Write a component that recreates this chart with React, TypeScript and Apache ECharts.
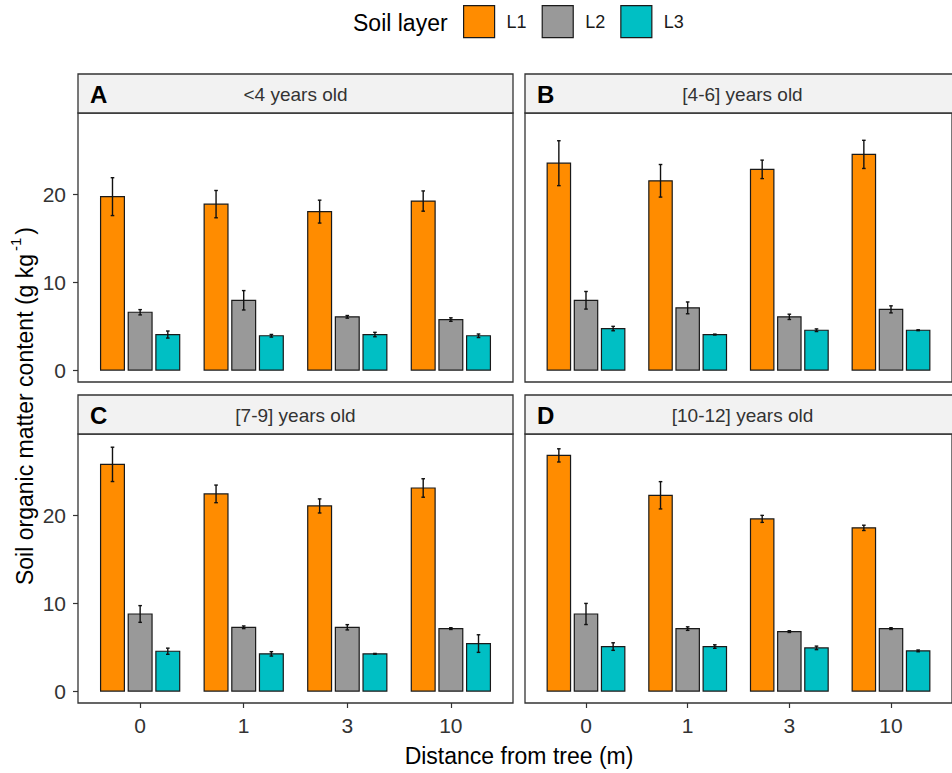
import React, { useEffect, useRef } from "react";
import * as echarts from "echarts";

const distances = ["0", "1", "3", "10"];
const layers = ["L1", "L2", "L3"];
const layerColors = ["#FF8C00", "#999999", "#00BFC4"];
const panelLetters = ["A", "B", "C", "D"];
const panelTitles = ["<4 years old", "[4-6] years old", "[7-9] years old", "[10-12] years old"];

// panel A  (<4 years old)
const A_L1 = [19.7, 18.85, 18.0, 19.2];
const A_L1_se = [2.15, 1.55, 1.3, 1.15];
const A_L2 = [6.57, 7.93, 6.05, 5.74];
const A_L2_se = [0.3, 1.1, 0.15, 0.2];
const A_L3 = [4.04, 3.9, 4.04, 3.9];
const A_L3_se = [0.4, 0.15, 0.25, 0.2];
// panel B  ([4-6] years old)
const B_L1 = [23.5, 21.5, 22.8, 24.5];
const B_L1_se = [2.55, 1.85, 1.05, 1.6];
const B_L2 = [7.93, 7.07, 6.05, 6.9];
const B_L2_se = [1.0, 0.67, 0.3, 0.4];
const B_L3 = [4.72, 4.04, 4.53, 4.53];
const B_L3_se = [0.25, 0.05, 0.15, 0.05];
// panel C  ([7-9] years old)
const C_L1 = [25.75, 22.4, 21.03, 23.07];
const C_L1_se = [1.95, 1.0, 0.8, 1.05];
const C_L2 = [8.76, 7.25, 7.25, 7.1];
const C_L2_se = [0.95, 0.15, 0.3, 0.1];
const C_L3 = [4.53, 4.23, 4.23, 5.4];
const C_L3_se = [0.35, 0.25, 0.05, 1.0];
// panel D  ([10-12] years old)
const D_L1 = [26.77, 22.24, 19.56, 18.54];
const D_L1_se = [0.75, 1.55, 0.4, 0.3];
const D_L2 = [8.76, 7.1, 6.76, 7.1];
const D_L2_se = [1.2, 0.2, 0.1, 0.1];
const D_L3 = [5.06, 5.06, 4.91, 4.57];
const D_L3_se = [0.43, 0.2, 0.2, 0.1];

const yTicks = [0, 10, 20];

const panelMeans = [
  [A_L1, A_L2, A_L3],
  [B_L1, B_L2, B_L3],
  [C_L1, C_L2, C_L3],
  [D_L1, D_L2, D_L3],
];
const panelSe = [
  [A_L1_se, A_L2_se, A_L3_se],
  [B_L1_se, B_L2_se, B_L3_se],
  [C_L1_se, C_L2_se, C_L3_se],
  [D_L1_se, D_L2_se, D_L3_se],
];

const FONT = "'Liberation Sans', Arial, sans-serif";

export default function App() {
  const ref = useRef<HTMLDivElement>(null);
  useEffect(() => {
    if (!ref.current) return;
    const chart = echarts.init(ref.current, undefined, { renderer: "svg" });

    const panelLeft = [78, 525, 78, 525];
    const stripTop = [74, 74, 395, 395];
    const stripH = 39;
    const plotW = 435;
    const plotH = 269;
    const offsets = [-0.267, 0, 0.267];
    const barW = 0.23;

    const grids: any[] = [];
    const xAxes: any[] = [];
    const yAxes: any[] = [];
    const series: any[] = [];
    const graphics: any[] = [];

    for (let p = 0; p < 4; p++) {
      const isLeft = p % 2 === 0;
      const isBottom = p >= 2;
      grids.push({
        left: panelLeft[p],
        top: stripTop[p] + stripH,
        width: plotW,
        height: plotH,
        show: true,
        borderColor: "#333333",
        borderWidth: 1.3,
        backgroundColor: "#ffffff",
        containLabel: false,
      });
      xAxes.push({
        type: "value",
        gridIndex: p,
        min: 0.4,
        max: 4.6,
        axisLine: { show: false, onZero: false },
        splitLine: { show: false },
        axisTick: {
          show: isBottom,
          length: 5,
          customValues: [1, 2, 3, 4],
          lineStyle: { color: "#333333", width: 1.2 },
        },
        axisLabel: {
          show: isBottom,
          customValues: [1, 2, 3, 4],
          formatter: (v: number) => distances[Math.round(v) - 1] ?? "",
          fontSize: 21,
          fontFamily: FONT,
          color: "#333333",
          margin: 12,
        },
      });
      yAxes.push({
        type: "value",
        gridIndex: p,
        min: -1.35,
        max: 29.2,
        axisLine: { show: false, onZero: false },
        splitLine: { show: false },
        axisTick: {
          show: isLeft,
          length: 5,
          customValues: yTicks,
          lineStyle: { color: "#333333", width: 1.2 },
        },
        axisLabel: {
          show: isLeft,
          customValues: yTicks,
          fontSize: 21,
          fontFamily: FONT,
          color: "#333333",
          margin: 12,
        },
      });

      for (let l = 0; l < 3; l++) {
        const means = panelMeans[p][l];
        const ses = panelSe[p][l];
        const off = offsets[l];
        series.push({
          type: "custom",
          name: layers[l],
          xAxisIndex: p,
          yAxisIndex: p,
          itemStyle: { color: layerColors[l], borderColor: "#1a1a1a", borderWidth: 1.2 },
          encode: { x: 0, y: 1 },
          data: distances.map((_, i) => [i + 1, means[i], ses[i]]),
          renderItem: (params: any, api: any) => {
            const x = api.value(0) + off;
            const v = api.value(1);
            const se = api.value(2);
            const pl = api.coord([x - barW / 2, 0]);
            const pr = api.coord([x + barW / 2, v]);
            const pc = api.coord([x, 0]);
            const top = api.coord([x, v + se]);
            const bot = api.coord([x, v - se]);
            const cap = 1.8;
            const ls = { stroke: "#111111", lineWidth: 1.4 };
            return {
              type: "group",
              children: [
                {
                  type: "rect",
                  shape: { x: pl[0], y: pr[1], width: pr[0] - pl[0], height: pl[1] - pr[1] },
                  style: { fill: layerColors[l], stroke: "#1a1a1a", lineWidth: 1.2 },
                },
                { type: "line", shape: { x1: pc[0], y1: top[1], x2: pc[0], y2: bot[1] }, style: ls },
                { type: "line", shape: { x1: pc[0] - cap, y1: top[1], x2: pc[0] + cap, y2: top[1] }, style: ls },
                { type: "line", shape: { x1: pc[0] - cap, y1: bot[1], x2: pc[0] + cap, y2: bot[1] }, style: ls },
              ],
            };
          },
        });
      }

      // strip
      graphics.push({
        type: "rect",
        shape: { x: panelLeft[p], y: stripTop[p], width: plotW, height: stripH },
        style: { fill: "#F2F2F2", stroke: "#333333", lineWidth: 1.3 },
        z: 10,
      });
      graphics.push({
        type: "text",
        x: panelLeft[p] + 12,
        y: stripTop[p] + stripH / 2 + 1,
        style: {
          text: panelLetters[p],
          font: `bold 24px ${FONT}`,
          fill: "#000000",
          verticalAlign: "middle",
          align: "left",
        },
        z: 11,
      });
      graphics.push({
        type: "text",
        x: panelLeft[p] + plotW / 2,
        y: stripTop[p] + stripH / 2 + 1,
        style: {
          text: panelTitles[p],
          font: `19px ${FONT}`,
          fill: "#333333",
          verticalAlign: "middle",
          align: "center",
        },
        z: 11,
      });
    }

    graphics.push({
      type: "text",
      x: 353,
      y: 23,
      style: {
        text: "Soil layer",
        font: `23px ${FONT}`,
        fill: "#000000",
        verticalAlign: "middle",
        align: "left",
      },
    });
    graphics.push({
      type: "text",
      x: 519,
      y: 756,
      style: {
        text: "Distance from tree (m)",
        font: `23px ${FONT}`,
        fill: "#000000",
        verticalAlign: "middle",
        align: "center",
      },
    });
    graphics.push({
      type: "text",
      x: 22,
      y: 406,
      rotation: Math.PI / 2,
      style: {
        text: "{a|Soil organic matter content (g kg}{s|-1}{a|)}",
        rich: {
          a: { font: `23px ${FONT}`, fill: "#000000", lineHeight: 28, verticalAlign: "bottom" },
          s: { font: `15px ${FONT}`, fill: "#000000", lineHeight: 15, verticalAlign: "top", padding: [0, 3, 6, 3] },
        },
        verticalAlign: "middle",
        align: "center",
      },
    });

    chart.setOption({
      animation: false,
      backgroundColor: "#ffffff",
      legend: {
        left: 463,
        top: 5,
        padding: 0,
        itemWidth: 31,
        itemHeight: 32,
        itemGap: 15,
        icon: "rect",
        data: layers,
        itemStyle: { borderColor: "#1a1a1a", borderWidth: 1.2 },
        textStyle: { fontSize: 18, fontFamily: FONT, color: "#1a1a1a", padding: [0, 0, 0, 7] },
      },
      grid: grids,
      xAxis: xAxes,
      yAxis: yAxes,
      series,
      graphic: graphics,
    });

    return () => chart.dispose();
  }, []);

  return (
    <div
      ref={ref}
      style={{ position: "absolute", left: 0, top: 0, width: 952, height: 773, background: "#fff" }}
    />
  );
}
